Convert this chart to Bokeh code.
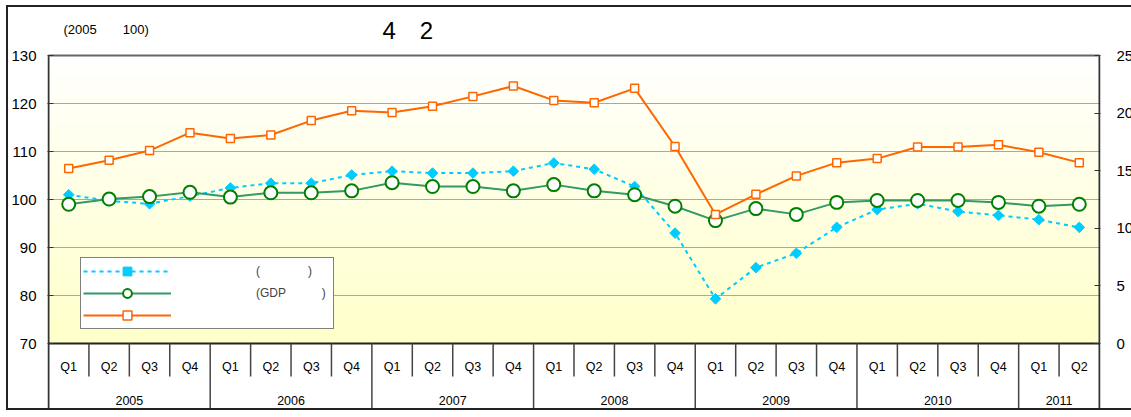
import numpy as np
from bokeh.plotting import figure
from bokeh.models import (Range1d, LinearAxis, FixedTicker, Legend,
                          LegendItem, Label)
from bokeh.embed import file_html
from bokeh.resources import INLINE
from bokeh.core.properties import value

try:
    from bokeh.models import GlobalInlineStyleSheet
except Exception:  # pragma: no cover
    GlobalInlineStyleSheet = None

# ---------------- data ----------------
quarter_labels = ["Q1", "Q2", "Q3", "Q4"] * 6 + ["Q1", "Q2"]
period_years = (["2005"] * 4 + ["2006"] * 4 + ["2007"] * 4 + ["2008"] * 4 +
                ["2009"] * 4 + ["2010"] * 4 + ["2011"] * 2)
year_labels = ["2005", "2006", "2007", "2008", "2009", "2010", "2011"]

# left axis (2005 = 100)
export_volume = [101.0, 99.7, 99.1, 100.7, 102.4, 103.4, 103.4, 105.1,
                 105.9, 105.5, 105.5, 105.9, 107.6, 106.3, 102.7, 93.0,
                 79.3, 85.8, 88.8, 94.2, 97.9, 99.1, 97.5, 96.7, 95.8, 94.2]
real_exports_gdp = [99.0, 100.1, 100.6, 101.5, 100.5, 101.4, 101.4, 101.8,
                    103.5, 102.7, 102.7, 101.8, 103.1, 101.8, 101.0, 98.6,
                    95.6, 98.1, 96.9, 99.4, 99.8, 99.8, 99.8, 99.4, 98.6, 99.0]
# right axis
export_ratio = [15.2, 15.9, 16.75, 18.3, 17.8, 18.1, 19.35, 20.2,
                20.05, 20.6, 21.45, 22.35, 21.1, 20.9, 22.15, 17.1,
                11.2, 12.95, 14.55, 15.7, 16.05, 17.05, 17.05, 17.25, 16.6, 15.7]

left_ticks = [70, 80, 90, 100, 110, 120, 130]
right_ticks = [0, 5, 10, 15, 20, 25]

title_text = "4\u30002"
subtitle_text = "(2005\u3000\u3000100)"
legend_labels = [
    "\u3000" * 6 + "(" + "\u3000" * 4 + ")",
    "\u3000" * 6 + "(GDP" + "\u3000" * 3 + ")",
    "\u3000" * 6,
]

# ---------------- layout constants ----------------
FONT = "Liberation Sans"
n = len(quarter_labels)
x = list(range(n))
L_MIN, L_MAX = left_ticks[0], left_ticks[-1]
R_MIN, R_MAX = right_ticks[0], right_ticks[-1]
PLOT_PX = 288.0          # pixel height of the value area
TABLE_PX = 68.0          # pixel height of the category table below
HEADER_PX = 48.0         # pixel height of the header above the value area
FRAME_W_PX = 1055.0
PAD = 1.0 / (FRAME_W_PX / n)   # one pixel in x data units
span_l = L_MAX - L_MIN
span_r = R_MAX - R_MIN
l_start = L_MIN - span_l * TABLE_PX / PLOT_PX
l_end = L_MAX + span_l * HEADER_PX / PLOT_PX
r_start = R_MIN - span_r * TABLE_PX / PLOT_PX
r_end = R_MAX + span_r * HEADER_PX / PLOT_PX

p = figure(width=1129, height=405, output_backend="svg", toolbar_location=None,
           x_range=Range1d(-0.5 - PAD, n - 0.5 + PAD), y_range=Range1d(l_start, l_end),
           x_axis_location=None,
           min_border_left=38, min_border_right=37, min_border_top=0,
           min_border_bottom=1)
p.styles = {"margin-left": "6px", "margin-top": "5px",
            "border-left": "2px solid #222", "border-top": "2px solid #222",
            "border-bottom": "2px solid #222"}
if GlobalInlineStyleSheet is not None:
    p.stylesheets = [GlobalInlineStyleSheet(css="html, body { overflow: hidden; }")]
p.extra_y_ranges = {"right": Range1d(r_start, r_end)}
p.background_fill_color = "white"
p.border_fill_color = "white"
p.outline_line_color = None
p.xgrid.visible = False
p.ygrid.ticker = FixedTicker(ticks=left_ticks[1:-1])
p.ygrid.grid_line_color = "#A8A8A8"
p.ygrid.grid_line_width = 1

# gradient background of the value area
nb = 60
edges = np.linspace(L_MIN, L_MAX, nb + 1)
mid = (edges[:-1] + edges[1:]) / 2
t = (mid - L_MIN) / span_l
cols = ["#%02x%02x%02x" % (255, 255, int(round(200 + (254 - 200) * tt))) for tt in t]
p.quad(left=-0.5, right=n - 0.5, bottom=edges[:-1], top=np.minimum(edges[1:] + 0.08, L_MAX),
       fill_color=cols, line_color=None, level="underlay")


def style_axis(a, standoff):
    a.major_tick_in = 6
    a.major_tick_out = 0
    a.minor_tick_in = 0
    a.minor_tick_out = 0
    a.minor_tick_line_color = None
    a.axis_line_color = None
    a.major_tick_line_color = "#333333"
    a.major_tick_line_width = 1
    a.major_label_standoff = standoff
    a.major_label_text_font = FONT
    a.major_label_text_font_size = "15px"
    a.major_label_text_color = "black"


# left axis
ax = p.yaxis[0]
ax.ticker = FixedTicker(ticks=left_ticks)
style_axis(ax, 11)

# right axis
rax = LinearAxis(y_range_name="right", ticker=FixedTicker(ticks=right_ticks))
style_axis(rax, 16)
p.add_layout(rax, "right")

# axis lines (left and right edges of value area + category table)
p.segment(x0=[-0.5, n - 0.5], x1=[-0.5, n - 0.5], y0=[l_start, l_start], y1=[L_MAX, L_MAX],
          line_color="#333333", line_width=2)

# borders of the value area
p.segment(x0=[-0.5], x1=[n - 0.5], y0=[L_MAX], y1=[L_MAX], line_color="#666666", line_width=2)
p.segment(x0=[-0.5], x1=[n - 0.5], y0=[L_MIN], y1=[L_MIN], line_color="#222222", line_width=2)

# category table
bounds = [i - 0.5 for i in range(1, n)]
year_break = [period_years[i] != period_years[i - 1] for i in range(1, n)]
q_sep = [b for b, yb in zip(bounds, year_break) if not yb]
y_sep = [b for b, yb in zip(bounds, year_break) if yb]
q_depth = span_l * 33.0 / PLOT_PX
p.segment(x0=q_sep, x1=q_sep, y0=[L_MIN] * len(q_sep), y1=[L_MIN - q_depth] * len(q_sep),
          line_color="#444444", line_width=1.5)
p.segment(x0=y_sep, x1=y_sep, y0=[L_MIN] * len(y_sep), y1=[l_start] * len(y_sep),
          line_color="#444444", line_width=1.5)
p.text(x=x, y=[L_MIN - span_l * 23.0 / PLOT_PX] * n, text=quarter_labels,
       text_align="center", text_baseline="middle", text_font=value(FONT),
       text_font_size="12.5px", text_color="black")
year_x = [float(np.mean([i for i in x if period_years[i] == yl])) for yl in year_labels]
p.text(x=year_x, y=[L_MIN - span_l * 57.0 / PLOT_PX] * len(year_labels), text=year_labels,
       text_align="center", text_baseline="middle", text_font=value(FONT),
       text_font_size="12.5px", text_color="black")

# series
c_line = p.line(x, export_volume, line_color="#00CCFF", line_width=2, line_dash="4 4")
c_mark = p.scatter(x, export_volume, marker="square", angle=np.pi / 4, size=7.5,
                   fill_color="#00CCFF", line_color="#00CCFF")
g_line = p.line(x, real_exports_gdp, line_color="#339966", line_width=2)
g_mark = p.scatter(x, real_exports_gdp, marker="circle", size=13, fill_color="white",
                   line_color="#008000", line_width=2)
o_line = p.line(x, export_ratio, line_color="#FF6600", line_width=2, y_range_name="right")
o_mark = p.scatter(x, export_ratio, marker="square", size=8, fill_color="white",
                   line_color="#FF6600", line_width=1.5, y_range_name="right")

legend = Legend(items=[LegendItem(label=legend_labels[0], renderers=[c_line, c_mark]),
                       LegendItem(label=legend_labels[1], renderers=[g_line, g_mark]),
                       LegendItem(label=legend_labels[2], renderers=[o_line, o_mark])],
                location=(33, 82), glyph_width=88, glyph_height=22, label_height=20,
                label_width=147, spacing=0, padding=2, label_standoff=13, margin=0,
                border_line_color="black", border_line_width=1,
                background_fill_color="white", background_fill_alpha=1,
                label_text_font=FONT, label_text_font_size="12px")
p.add_layout(legend)

p.add_layout(Label(x=335, y=381, x_units="screen", y_units="screen", text=title_text,
                   text_font=FONT, text_font_size="24px", text_baseline="middle",
                   text_align="left", text_color="black"))
p.add_layout(Label(x=16, y=382, x_units="screen", y_units="screen", text=subtitle_text,
                   text_font=FONT, text_font_size="13px", text_baseline="middle",
                   text_align="left", text_color="black"))

open("out.html", "w").write(file_html(p, INLINE))
